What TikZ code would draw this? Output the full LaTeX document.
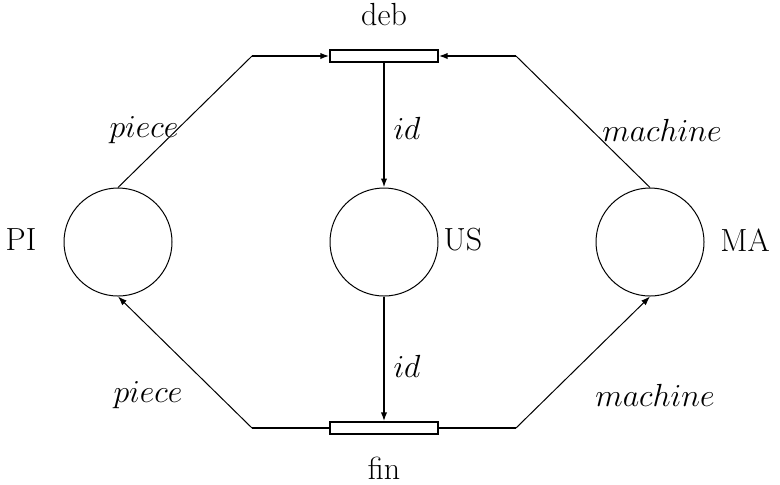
\RequirePackage{fix-cm}
\documentclass[tikz,border=0pt]{standalone}
\usetikzlibrary{arrows.meta}
\begin{document}
\begin{tikzpicture}[x=0.5pt,y=-0.5pt,
  place/.style={circle,draw,line width=0.5pt,minimum size=54pt,inner sep=0pt},
  trans/.style={rectangle,draw,fill=white,line width=0.65pt,minimum width=54pt,minimum height=6pt,inner sep=0pt},
  slimarc/.style={line width=0.5pt},
  midarc/.style={line width=0.6pt},
  boldarc/.style={line width=0.85pt},
  tip/.style={-{Latex[length=4.5pt,width=3.2pt]}},
  lbl/.style={font=\fontsize{16}{20}\selectfont,inner sep=0pt}]
\useasboundingbox (0,0) rectangle (780,484);

% places
\node[place] (PI) at (118,242) {};
\node[place] (US) at (384,242) {};
\node[place] (MA) at (650,242) {};

% transitions
\node[trans] (deb) at (384,56) {};
\node[trans] (fin) at (384,428) {};

% bends of the side arcs
\coordinate (tl) at (252,56);
\coordinate (tr) at (516,56);
\coordinate (bl) at (252,428);
\coordinate (br) at (516,428);

% arcs into deb
\draw[slimarc] (PI.north) -- (tl);
\draw[boldarc,tip] (tl) -- (deb.west);
\draw[slimarc] (MA.north) -- (tr);
\draw[boldarc,tip] (tr) -- (deb.east);
\draw[boldarc,tip] (deb.south) -- (US.north);

% arcs out of fin
\draw[boldarc,tip] (US.south) -- (fin.north);
\draw[midarc] (fin.west) -- (bl);
\draw[slimarc,tip] (bl) -- (PI.south);
\draw[midarc] (fin.east) -- (br);
\draw[slimarc,tip] (br) -- (MA.south);

% names
\node[lbl] (lPI) at (21,240) {PI};
\node[lbl] (lUS) at (463,240) {US};
\node[lbl] (lMA) at (745,240) {MA};
\node[lbl] (ldeb) at (384,15) {deb};
\node[lbl] (lfin) at (384,468) {fin};

% arc inscriptions
\node[lbl] (ip1) at (144,130) {$piece$};
\node[lbl] (ip2) at (148,395) {$piece$};
\node[lbl] (ii1) at (407,128) {$id$};
\node[lbl] (ii2) at (407,366) {$id$};
\node[lbl] (im1) at (662,130) {$machine$};
\node[lbl] (im2) at (655,395) {$machine$};
\end{tikzpicture}
\end{document}
